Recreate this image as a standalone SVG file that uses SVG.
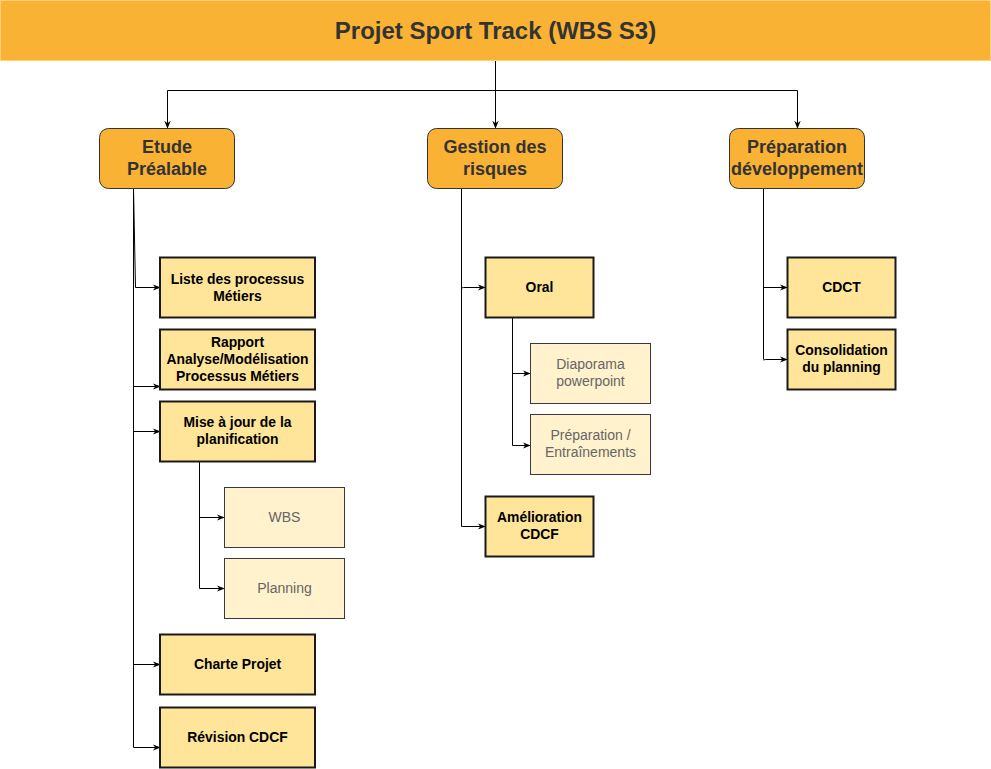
<svg xmlns="http://www.w3.org/2000/svg" width="991" height="769" viewBox="0 0 991 769">
<style>
.hdr{fill:#F9B233;stroke:#FFD27A;stroke-width:1}
.top{fill:#F9B233;stroke:#333333;stroke-width:1}
.leaf{fill:#FFE599;stroke:#1a1a1a;stroke-width:2}
.sub{fill:#FFF2CC;stroke:#36393d;stroke-width:1}
.t1{font-family:"Liberation Sans",Arial,sans-serif;font-weight:bold;font-size:24px;fill:#333333;text-anchor:middle}
.t2{font-family:"Liberation Sans",Arial,sans-serif;font-weight:bold;font-size:18px;fill:#333333;text-anchor:middle}
.t3{font-family:"Liberation Sans",Arial,sans-serif;font-weight:bold;font-size:13.9px;fill:#000000;text-anchor:middle}
.t4{font-family:"Liberation Sans",Arial,sans-serif;font-size:14px;fill:#666666;text-anchor:middle}
.c{fill:none;stroke:#000000;stroke-width:1;marker-end:url(#arr)}
.l{fill:none;stroke:#000000;stroke-width:1}
</style>
<defs>
<marker id="arr" viewBox="0 0 10 10" refX="9" refY="5" markerWidth="8" markerHeight="8" markerUnits="userSpaceOnUse" orient="auto">
<path d="M0,1 L10,5 L0,9 L3,5 Z" fill="#000000"/>
</marker>
</defs>
<g id="connectors">
<path class="l" d="M495.5,60 L495.5,90"/>
<path class="c" d="M495.5,60 L495.5,128"/>
<path class="c" d="M495.5,90.5 L167.5,90.5 L167.5,128"/>
<path class="c" d="M495.5,90.5 L797.5,90.5 L797.5,128"/>
<path class="l" d="M133.5,188 L133.5,747"/>
<path class="c" d="M133.5,188 L135.5,287.5 L160,287.5"/>
<path class="c" d="M133.5,386.5 L160,386.5"/>
<path class="c" d="M133.5,431.5 L160,431.5"/>
<path class="c" d="M133.5,664.5 L160,664.5"/>
<path class="c" d="M133.5,747 L133.5,747.5 L160,747.5"/>
<path class="l" d="M199.5,461 L199.5,588.5"/>
<path class="c" d="M199.5,517.5 L224,517.5"/>
<path class="c" d="M199.5,588.5 L224,588.5"/>
<path class="l" d="M461.5,188 L461.5,526.5"/>
<path class="c" d="M461.5,288 L463.5,287.5 L485,287.5"/>
<path class="c" d="M461.5,526.5 L485,526.5"/>
<path class="l" d="M512.5,317 L512.5,445.5"/>
<path class="c" d="M512.5,373.5 L530,373.5"/>
<path class="c" d="M512.5,445.5 L530,445.5"/>
<path class="l" d="M763.5,188 L763.5,359.5"/>
<path class="c" d="M763.5,287.5 L787,287.5"/>
<path class="c" d="M763.5,360 L765.5,359.5 L787,359.5"/>
</g>
<g id="header">
<rect class="hdr" x="0.5" y="0.5" width="990" height="60"/>
<text class="t1" x="495.5" y="39">Projet Sport Track (WBS S3)</text>
</g>
<g id="etude">
<rect class="top" x="99.5" y="128.5" width="135" height="60" rx="9"/>
<text class="t2" x="167" y="153">Etude</text>
<text class="t2" x="167" y="175">Préalable</text>
</g>
<g id="gestion">
<rect class="top" x="427.5" y="128.5" width="135" height="60" rx="9"/>
<text class="t2" x="495" y="153">Gestion des</text>
<text class="t2" x="495" y="175">risques</text>
</g>
<g id="preparation">
<rect class="top" x="729.5" y="128.5" width="135" height="60" rx="9"/>
<text class="t2" x="797" y="153">Préparation</text>
<text class="t2" x="797" y="175">développement</text>
</g>
<g id="liste">
<rect class="leaf" x="160" y="257.5" width="155" height="60"/>
<text class="t3" x="237.5" y="284">Liste des processus</text>
<text class="t3" x="237.5" y="301">Métiers</text>
</g>
<g id="rapport">
<rect class="leaf" x="160" y="329.5" width="155" height="60"/>
<text class="t3" x="237.5" y="347">Rapport</text>
<text class="t3" x="237.5" y="364">Analyse/Modélisation</text>
<text class="t3" x="237.5" y="381">Processus Métiers</text>
</g>
<g id="maj">
<rect class="leaf" x="160" y="401.5" width="155" height="60"/>
<text class="t3" x="237.5" y="427">Mise à jour de la</text>
<text class="t3" x="237.5" y="444">planification</text>
</g>
<g id="wbs">
<rect class="sub" x="224.5" y="487.5" width="120" height="60"/>
<text class="t4" x="284.5" y="522">WBS</text>
</g>
<g id="planning">
<rect class="sub" x="224.5" y="558.5" width="120" height="60"/>
<text class="t4" x="284.5" y="593">Planning</text>
</g>
<g id="charte">
<rect class="leaf" x="160" y="634.5" width="155" height="60"/>
<text class="t3" x="237.5" y="669">Charte Projet</text>
</g>
<g id="revision">
<rect class="leaf" x="160" y="707.5" width="155" height="60"/>
<text class="t3" x="237.5" y="742">Révision CDCF</text>
</g>
<g id="oral">
<rect class="leaf" x="485.5" y="257.5" width="108" height="60"/>
<text class="t3" x="539.5" y="292">Oral</text>
</g>
<g id="diaporama">
<rect class="sub" x="530.5" y="343.5" width="120" height="60"/>
<text class="t4" x="590.5" y="369">Diaporama</text>
<text class="t4" x="590.5" y="386">powerpoint</text>
</g>
<g id="entrainements">
<rect class="sub" x="530.5" y="414.5" width="120" height="60"/>
<text class="t4" x="590.5" y="440">Préparation /</text>
<text class="t4" x="590.5" y="457">Entraînements</text>
</g>
<g id="amelioration">
<rect class="leaf" x="485.5" y="496.5" width="108" height="60"/>
<text class="t3" x="539.5" y="522">Amélioration</text>
<text class="t3" x="539.5" y="539">CDCF</text>
</g>
<g id="cdct">
<rect class="leaf" x="787.5" y="257.5" width="108" height="60"/>
<text class="t3" x="841.5" y="292">CDCT</text>
</g>
<g id="consolidation">
<rect class="leaf" x="787.5" y="329.5" width="108" height="60"/>
<text class="t3" x="841.5" y="355">Consolidation</text>
<text class="t3" x="841.5" y="372">du planning</text>
</g>
</svg>
